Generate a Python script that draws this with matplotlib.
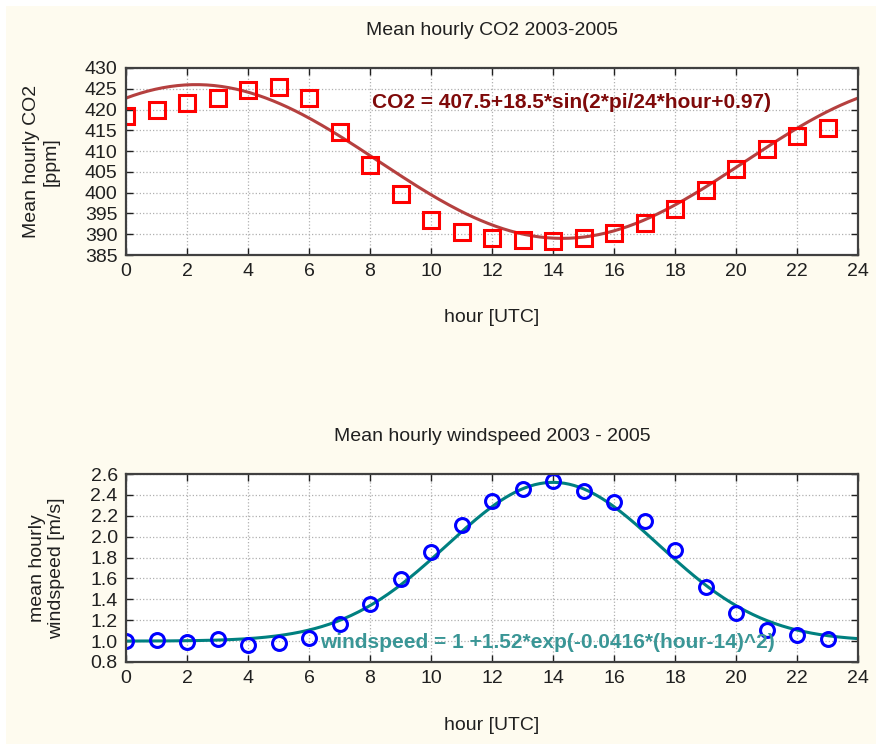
import numpy as np
import matplotlib.pyplot as plt
from matplotlib.patches import Rectangle

plt.rcParams['font.family'] = ['Liberation Sans', 'DejaVu Sans']

hours = np.arange(24)
co2 = [418.4, 419.9, 421.5, 422.8, 424.8, 425.5, 422.8, 414.6, 406.6, 399.6,
       393.4, 390.5, 389.2, 388.6, 388.4, 389.2, 390.4, 392.8, 396.1, 400.6,
       405.8, 410.6, 413.6, 415.6]
wind = [1.00, 1.01, 0.99, 1.02, 0.96, 0.98, 1.03, 1.16, 1.36, 1.59,
        1.85, 2.11, 2.34, 2.46, 2.53, 2.44, 2.33, 2.15, 1.87, 1.52,
        1.27, 1.11, 1.06, 1.02]

# fit parameters as printed on the chart
co2_a, co2_b, co2_phase = 407.5, 18.5, 0.97
ws_a, ws_b, ws_k, ws_mu = 1.0, 1.52, 0.0416, 14.0

x_fit = np.linspace(0, 24, 300)
co2_fit = co2_a + co2_b * np.sin(2 * np.pi / 24 * x_fit + co2_phase)
ws_fit = ws_a + ws_b * np.exp(-ws_k * (x_fit - ws_mu) ** 2)

W, H = 881, 747
fig = plt.figure(figsize=(W / 100, H / 100), dpi=100, facecolor='white')
fig.patches.append(Rectangle((6 / W, 3 / H), 870 / W, 738 / H, transform=fig.transFigure,
                             facecolor='#fefbef', edgecolor='none', zorder=-10))


def make_axes(top, bottom):
    ax = fig.add_axes([126 / W, 1 - bottom / H, 732 / W, (bottom - top) / H])
    ax.set_facecolor('white')
    for s in ax.spines.values():
        s.set_color('#404040')
        s.set_linewidth(1.6)
    ax.grid(True, linestyle=':', color='#b0b0b0', linewidth=0.9)
    ax.tick_params(direction='in', length=5, width=1, top=True, right=True,
                   labelsize=14, colors='#202020', pad=6)
    ax.set_xlim(0, 24)
    ax.set_xticks(range(0, 25, 2))
    ax.set_xlabel('hour [UTC]', fontsize=14, color='#202020', labelpad=21)
    return ax


def pix_text(x, y, s, color):
    fig.text(x / W, 1 - y / H, s, fontsize=15, fontweight='bold', color=color, va='center')


ax1 = make_axes(68, 255)
ax1.plot(x_fit, co2_fit, color='#b5403f', linewidth=2.2)
ax1.plot(hours, co2, linestyle='none', marker='s', markersize=11, markerfacecolor='none',
         markeredgecolor='#ff0000', markeredgewidth=2.2)
ax1.set_ylim(385, 430)
ax1.set_yticks(range(385, 431, 5))
ax1.set_ylabel('Mean hourly CO2\n[ppm]', fontsize=14, color='#202020', labelpad=18)
ax1.set_title('Mean hourly CO2 2003-2005', fontsize=14, color='#202020', pad=24)
pix_text(372, 103, 'CO2 = 407.5+18.5*sin(2*pi/24*hour+0.97)', '#7f0a0a')

ax2 = make_axes(474, 662)
ax2.plot(x_fit, ws_fit, color='#008080', linewidth=2.2)
ax2.plot(hours, wind, linestyle='none', marker='o', markersize=10, markerfacecolor='none',
         markeredgecolor='#0000ff', markeredgewidth=2.2)
ax2.set_ylim(0.8, 2.6)
ax2.set_yticks(np.arange(0.8, 2.61, 0.2))
ax2.set_yticklabels(['%.1f' % v for v in np.arange(0.8, 2.61, 0.2)])
ax2.set_ylabel('mean hourly\nwindspeed [m/s]', fontsize=14, color='#202020', labelpad=18)
ax2.set_title('Mean hourly windspeed 2003 - 2005', fontsize=14, color='#202020', pad=24)
pix_text(320, 643, 'windspeed = 1 +1.52*exp(-0.0416*(hour-14)^2)', '#3a9696')

fig.savefig('out.png', dpi=100, facecolor='white')
